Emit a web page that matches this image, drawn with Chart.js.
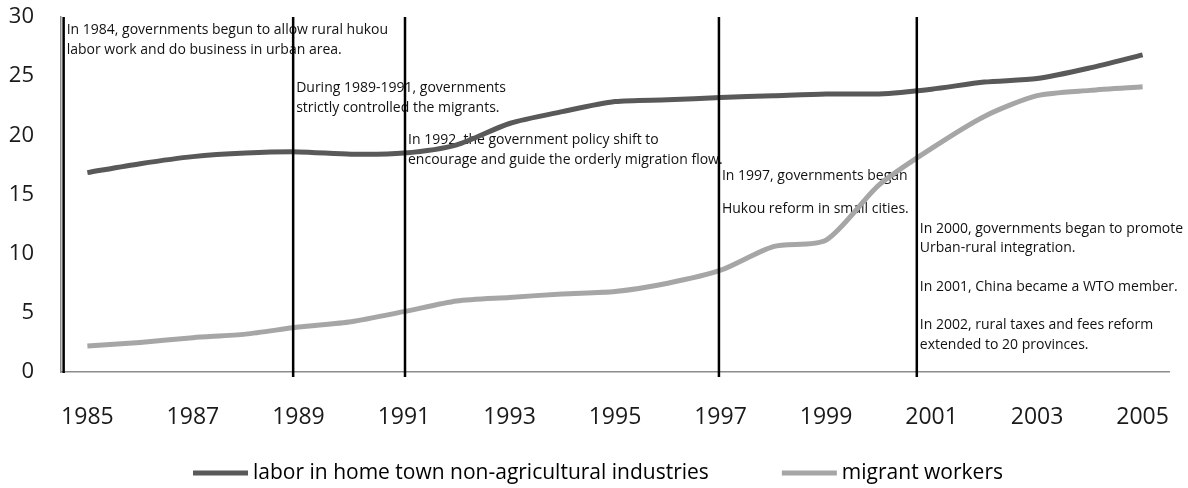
<!DOCTYPE html>
<html>
<head>
<meta charset="utf-8">
<title>Rural labor and migrant workers, 1985-2005</title>
<script src="https://cdn.jsdelivr.net/npm/chart.js@4/dist/chart.umd.min.js"></script>
<style>
  html, body { margin: 0; padding: 0; background: #fff; }
  #wrap { width: 1188px; height: 488px; position: relative; }
</style>
</head>
<body>
<div id="wrap"><canvas id="chart"></canvas></div>
<script>
// years on the x axis
const years = [1985, 1986, 1987, 1988, 1989, 1990, 1991, 1992, 1993, 1994, 1995,
               1996, 1997, 1998, 1999, 2000, 2001, 2002, 2003, 2004, 2005];

// labor in home town non-agricultural industries
const laborHomeTown = [16.85, 17.6, 18.2, 18.5, 18.6, 18.4, 18.5, 19.2, 21.0, 22.0, 22.85,
                       23.0, 23.2, 23.35, 23.5, 23.5, 23.9, 24.5, 24.8, 25.7, 26.8];

// migrant workers
const migrantWorkers = [2.2, 2.5, 2.9, 3.2, 3.8, 4.25, 5.1, 6.0, 6.3, 6.6, 6.8,
                        7.5, 8.6, 10.6, 11.15, 15.8, 18.9, 21.6, 23.35, 23.8, 24.1];

const tickYears = [1985, 1987, 1989, 1991, 1993, 1995, 1997, 1999, 2001, 2003, 2005];

// policy events: where the vertical marker sits (in years) and the note text
const eventYears = [1984.55, 1988.9, 1991.02, 1996.97, 2000.72];
const eventNotes = [
    { at: 0, value: 28.9,  text: "In 1984, governments begun to allow rural hukou" },
    { at: 0, value: 27.2,  text: "labor work and do business in urban area." },
    { at: 1, value: 24.0,  text: "During 1989-1991, governments" },
    { at: 1, value: 22.3,  text: "strictly controlled the migrants." },
    { at: 2, value: 19.6,  text: "In 1992, the government policy shift to" },
    { at: 2, value: 17.9,  text: "encourage and guide the orderly migration flow." },
    { at: 3, value: 16.55, text: "In 1997, governments began" },
    { at: 3, value: 13.8,  text: "Hukou reform in small cities." },
    { at: 4, value: 12.1,  text: "In 2000, governments began to promote" },
    { at: 4, value: 10.5,  text: "Urban-rural integration." },
    { at: 4, value: 7.2,   text: "In 2001, China became a WTO member." },
    { at: 4, value: 3.95,  text: "In 2002, rural taxes and fees reform" },
    { at: 4, value: 2.3,   text: "extended to 20 provinces." }
];

const FONT = "'Open Sans', 'Noto Sans', sans-serif";

// notes go under the series lines, marker lines go on top
const eventPlugin = {
    id: "events",
    beforeDatasetsDraw(chart) {
        const { ctx, scales: { x, y } } = chart;
        ctx.save();
        ctx.font = "14px " + FONT;
        ctx.fillStyle = "#111";
        ctx.textBaseline = "middle";
        ctx.textAlign = "left";
        eventNotes.forEach(n => {
            ctx.fillText(n.text, x.getPixelForValue(eventYears[n.at]) + 3, y.getPixelForValue(n.value));
        });
        ctx.restore();
    },
    afterDatasetsDraw(chart) {
        const { ctx, scales: { x, y } } = chart;
        ctx.save();
        ctx.strokeStyle = "#000";
        ctx.lineWidth = 2.5;
        eventYears.forEach((yr, i) => {
            const px = x.getPixelForValue(yr);
            ctx.beginPath();
            ctx.moveTo(px, y.getPixelForValue(30));
            ctx.lineTo(px, y.bottom + (i === 0 ? 1 : 5));
            ctx.stroke();
        });
        ctx.restore();
    }
};

// Excel-style legend: long line swatch, tight label, wide gap between items
const lineLegend = {
    id: "lineLegend",
    afterDraw(chart) {
        const { ctx, width } = chart;
        const sets = chart.data.datasets;
        ctx.save();
        ctx.font = "21px " + FONT;
        const swatch = 55, textGap = 5, itemGap = 73;
        const widths = sets.map(d => swatch + textGap + ctx.measureText(d.label).width);
        const total = widths.reduce((a, b) => a + b, 0) + itemGap * (sets.length - 1);
        let x = width / 2 + 4 - total / 2;
        const yMid = 473;
        ctx.textBaseline = "middle";
        ctx.textAlign = "left";
        sets.forEach((d, i) => {
            ctx.fillStyle = d.borderColor;
            ctx.fillRect(x, yMid - 2.5, swatch, 5);
            ctx.fillStyle = "#000";
            ctx.fillText(d.label, x + swatch + textGap, yMid);
            x += widths[i] + itemGap;
        });
        ctx.restore();
    }
};

new Chart(document.getElementById("chart"), {
    type: "line",
    data: {
        labels: years,
        datasets: [
            {
                label: "labor in home town non-agricultural industries",
                data: laborHomeTown,
                borderColor: "#595959",
                backgroundColor: "#595959",
                borderWidth: 5,
                pointRadius: 0,
                tension: 0.25
            },
            {
                label: "migrant workers",
                data: migrantWorkers,
                borderColor: "#a6a6a6",
                backgroundColor: "#a6a6a6",
                borderWidth: 5,
                pointRadius: 0,
                tension: 0.25
            }
        ]
    },
    options: {
        responsive: true,
        maintainAspectRatio: false,
        animation: false,
        layout: { padding: { top: 17, right: 19, left: 0, bottom: 0 } },
        plugins: {
            tooltip: { enabled: false },
            legend: { display: false }
        },
        scales: {
            x: {
                type: "linear",
                min: 1984.5,
                max: 2005.5,
                grid: { display: false, drawTicks: false },
                border: { display: true, color: "#8c8c8c", width: 1.5 },
                afterBuildTicks(axis) {
                    axis.ticks = tickYears.map(v => ({ value: v }));
                },
                afterFit(axis) {
                    axis.height = 116;
                    axis.paddingLeft = 0;
                    axis.paddingRight = 0;
                },
                ticks: {
                    padding: 32,
                    color: "#1a1a1a",
                    font: { family: FONT, size: 23 },
                    maxRotation: 0,
                    autoSkip: false,
                    callback: v => String(v)
                }
            },
            y: {
                min: 0,
                max: 30,
                grid: { display: false, drawTicks: false },
                border: { display: true, color: "#8c8c8c", width: 1.5 },
                afterFit(axis) {
                    axis.width = 61;
                    axis.paddingTop = 0;
                    axis.paddingBottom = 0;
                },
                ticks: {
                    stepSize: 5,
                    padding: 27,
                    color: "#1a1a1a",
                    font: { family: FONT, size: 22 }
                }
            }
        }
    },
    plugins: [eventPlugin, lineLegend]
});
</script>
</body>
</html>
